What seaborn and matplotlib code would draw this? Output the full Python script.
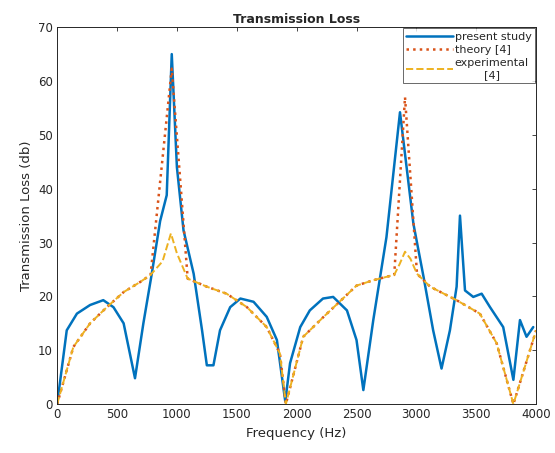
import matplotlib
matplotlib.use("Agg")
import matplotlib.pyplot as plt
import seaborn as sns
import pandas as pd

# present study (FEM)
freq_present = [0, 80, 165, 275, 385, 470, 555, 650, 720, 790, 860, 915, 943, 957,
                1000, 1055, 1140, 1210, 1250, 1305, 1360, 1445, 1530, 1640, 1750,
                1835, 1905, 1945, 2030, 2110, 2220, 2305, 2420, 2500, 2557, 2640,
                2750, 2863, 2975, 3060, 3140, 3210, 3280, 3336, 3364, 3406, 3475,
                3545, 3615, 3725, 3810, 3865, 3920, 3976]
tl_present = [0, 13.7, 16.8, 18.4, 19.3, 18, 15, 4.8, 15, 24.2, 34, 38.8, 56.4, 65,
              44, 32.3, 24.2, 13.7, 7.2, 7.2, 13.7, 18, 19.6, 19, 16.2,
              11.9, 0.5, 7.6, 14.3, 17.4, 19.6, 19.9, 17.4, 11.9, 2.6, 15.6,
              31, 54.2, 33.5, 23.6, 13.7, 6.6, 13.7, 21.8, 35, 21.1, 19.9,
              20.5, 18, 14.3, 4.5, 15.6, 12.5, 14.3]

# theory [4]
freq_theory = [0, 135, 275, 415, 555, 695, 780, 957, 1090, 1250, 1415, 1585, 1750,
               1860, 1910, 2055, 2225, 2500, 2640, 2815, 2905, 3005, 3115, 3335,
               3530, 3670, 3810, 4000]
tl_theory = [0, 10.6, 15, 18, 20.8, 22.7, 24, 62.3, 23.3, 21.8, 20.5, 18, 14.3,
             9.4, 0, 12.5, 16.2, 22, 23, 24, 57, 24.2, 21.8, 19.3,
             16.8, 11.3, 0, 13.7]

# experimental [4]
freq_exp = [0, 135, 275, 415, 555, 695, 780, 880, 950, 1000, 1090, 1250, 1415, 1585,
            1750, 1860, 1910, 2055, 2225, 2500, 2640, 2815, 2860, 2905, 2950, 3005,
            3115, 3335, 3530, 3670, 3810, 4000]
tl_exp = [0, 10.6, 15, 18, 20.8, 22.7, 24, 26.5, 31.7, 28, 23.3, 21.8, 20.5, 18,
          14.3, 9.4, 0, 12.5, 16.2, 22, 23, 24, 26, 28.3, 27, 24.2,
          21.8, 19.3, 16.8, 11.3, 0, 13.7]

sns.set_theme(style="white")
plt.rcParams.update({
    "font.family": ["DejaVu Sans"],
    "font.size": 8.5,
    "xtick.direction": "in",
    "ytick.direction": "in",
    "xtick.top": True,
    "ytick.right": True,
    "xtick.major.size": 3,
    "ytick.major.size": 3,
    "xtick.major.width": 0.6,
    "ytick.major.width": 0.6,
    "axes.edgecolor": "#262626",
    "axes.linewidth": 0.7,
})

fig = plt.figure(figsize=(5.55, 4.53), dpi=100)
ax = fig.add_axes([0.103, 0.108, 0.863, 0.832])

sns.lineplot(x=freq_present, y=tl_present, ax=ax, color="#0072BD", lw=1.8,
             label="present study", sort=False)
sns.lineplot(x=freq_theory, y=tl_theory, ax=ax, color="#D95319", lw=1.8,
             linestyle=":", label="theory [4]", sort=False)
sns.lineplot(x=freq_exp, y=tl_exp, ax=ax, color="#EDB120", lw=1.4,
             linestyle="--", label="experimental\n[4]", sort=False)

ax.set_xlim(0, 4000)
ax.set_ylim(0, 70)
ax.set_xticks(range(0, 4001, 500))
ax.set_yticks(range(0, 71, 10))
ax.tick_params(labelsize=8.5, colors="#262626", pad=3)
ax.set_title("Transmission Loss", fontsize=9, fontweight="bold", pad=3)
ax.set_xlabel("Frequency (Hz)", fontsize=9.5)
ax.set_ylabel("Transmission Loss (db)", fontsize=9.5)

leg = ax.legend(loc="upper right", fontsize=8, frameon=True, fancybox=False,
                borderaxespad=0.1, handlelength=4.2, labelspacing=0.3,
                borderpad=0.3, handletextpad=0.2)
leg.get_frame().set_edgecolor("#262626")
leg.get_frame().set_linewidth(0.6)
leg.get_texts()[2].set_multialignment("center")

fig.savefig("out.png", dpi=100)
